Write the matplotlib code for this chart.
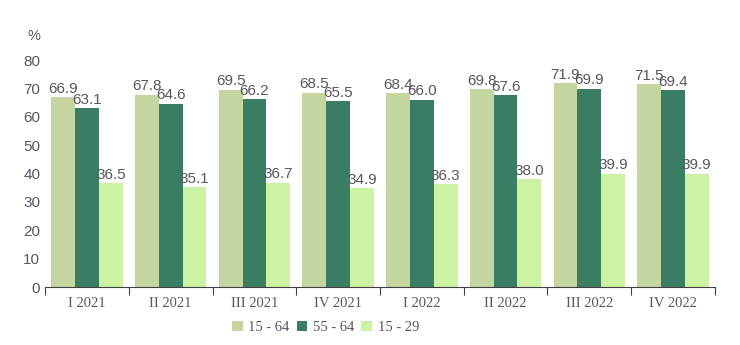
import numpy as np
import matplotlib.pyplot as plt

# quarters and series (percent)
quarters = ['I 2021', 'II 2021', 'III 2021', 'IV 2021', 'I 2022', 'II 2022', 'III 2022', 'IV 2022']
age_15_64 = [66.9, 67.8, 69.5, 68.5, 68.4, 69.8, 71.9, 71.5]
age_55_64 = [63.1, 64.6, 66.2, 65.5, 66.0, 67.6, 69.9, 69.4]
age_15_29 = [36.5, 35.1, 36.7, 34.9, 36.3, 38.0, 39.9, 39.9]

series = [('15 - 64', age_15_64, '#c4d59f'),
          ('55 - 64', age_55_64, '#3a7d63'),
          ('15 - 29', age_15_29, '#ccf2a3')]

txt = '#5a5560'
fig = plt.figure(figsize=(7.4, 3.45), dpi=100)
ax = fig.add_axes([0.061, 0.168, 0.905, 0.658])

x = np.arange(len(quarters))
w = 0.284
for i, (name, vals, col) in enumerate(series):
    pos = x + (i - 1) * w
    ax.bar(pos, vals, w, color=col, label=name)
    for p, v in zip(pos, vals):
        ax.text(p, v + 0.5, f'{v:.1f}', ha='center', va='bottom',
                fontsize=11, color=txt, family='Liberation Sans')

ax.set_xlim(-0.5, len(quarters) - 0.5)
ax.set_ylim(0, 80)
ax.set_yticks(range(0, 81, 10))
ax.tick_params(axis='y', length=0, labelsize=11, labelcolor=txt)
for lb in ax.get_yticklabels():
    lb.set_family('Liberation Sans')

# ticks at group boundaries, labels at centers
ax.set_xticks(np.arange(len(quarters) + 1) - 0.5)
ax.set_xticklabels([])
ax.set_xticks(x, minor=True)
ax.set_xticklabels(quarters, minor=True, family='Liberation Serif', fontsize=10.5, color=txt)
ax.tick_params(axis='x', which='major', length=6, color='#404040')
ax.tick_params(axis='x', which='minor', length=0, pad=7)

for s in ['top', 'right', 'left']:
    ax.spines[s].set_visible(False)
ax.spines['bottom'].set_color('#404040')

fig.text(0.037, 0.885, '%', fontsize=10.5, color=txt, family='Liberation Sans')

fig.legend(loc='center', bbox_to_anchor=(0.44, 0.05), ncol=3, frameon=False,
           handlelength=0.7, handleheight=0.7, handletextpad=0.4, columnspacing=0.5,
           prop={'family': 'Liberation Serif', 'size': 10.5}, labelcolor=txt)

fig.savefig('out.png', dpi=100)
